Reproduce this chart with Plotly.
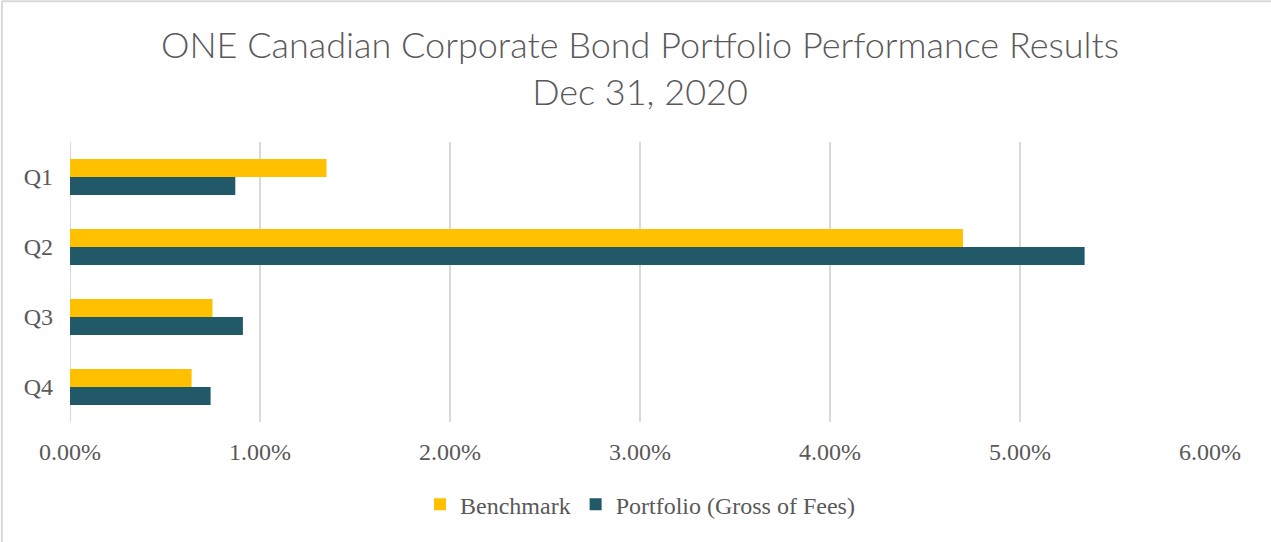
import plotly.graph_objects as go

quarters = ["Q1", "Q2", "Q3", "Q4"]
benchmark = [1.35, 4.70, 0.75, 0.64]
portfolio = [0.87, 5.34, 0.91, 0.74]
x_ticks = [0, 1, 2, 3, 4, 5, 6]
x_tick_labels = ["0.00%", "1.00%", "2.00%", "3.00%", "4.00%", "5.00%", "6.00%"]

YELLOW = "#FFC000"
TEAL = "#215968"
TEXT = "#595959"
GRID = "#d9d9d9"
SERIF = "Liberation Serif, DejaVu Serif, serif"

fig = go.Figure()
fig.add_trace(go.Bar(name="Benchmark", y=quarters, x=benchmark, orientation="h",
                     marker=dict(color=YELLOW, line=dict(width=0))))
fig.add_trace(go.Bar(name="Portfolio (Gross of Fees)", y=quarters, x=portfolio, orientation="h",
                     marker=dict(color=TEAL, line=dict(width=0))))

fig.update_layout(
    width=1271, height=542,
    margin=dict(l=70, r=61, t=142, b=120),
    paper_bgcolor="white", plot_bgcolor="white",
    barmode="group", bargap=0.486, bargroupgap=0,
    title=dict(text="ONE Canadian Corporate Bond Portfolio Performance Results<br>Dec 31, 2020",
               x=0.5, xanchor="center", xref="paper", yref="container", y=0.893, yanchor="bottom",
               font=dict(family="Lato, Inter, sans-serif", size=36, color=TEXT, weight=300)),
    legend=dict(orientation="h", x=0.5, xanchor="center", y=-0.215, yanchor="top",
                font=dict(family=SERIF, size=24, color=TEXT), traceorder="normal",
                itemwidth=30),
    showlegend=True,
)
fig.update_xaxes(range=[0, 6], tickvals=x_ticks, ticktext=x_tick_labels,
                 showgrid=True, gridcolor=GRID, gridwidth=2, zeroline=False,
                 showline=False, ticks="", ticklabelstandoff=13,
                 tickfont=dict(family=SERIF, size=24, color=TEXT))
fig.update_yaxes(autorange="reversed", showgrid=False, zeroline=False,
                 showline=False, ticks="", ticklabelstandoff=16,
                 tickfont=dict(family=SERIF, size=24, color=TEXT))
# zero gridline / left edge of plot
fig.add_shape(type="line", xref="x", yref="paper", x0=0, x1=0, y0=0, y1=1,
              line=dict(color=GRID, width=2), layer="below")
# chart border (top and left)
fig.add_shape(type="line", xref="paper", yref="paper", x0=-0.06, x1=1.06, y0=1.503, y1=1.503,
              line=dict(color=GRID, width=2))
fig.add_shape(type="line", xref="paper", yref="paper", x0=-0.0597, x1=-0.0597, y0=-0.43, y1=1.503,
              line=dict(color=GRID, width=2))

fig.write_html("out.html", config={"displayModeBar": False},
               post_script="document.body.style.margin='0';")
